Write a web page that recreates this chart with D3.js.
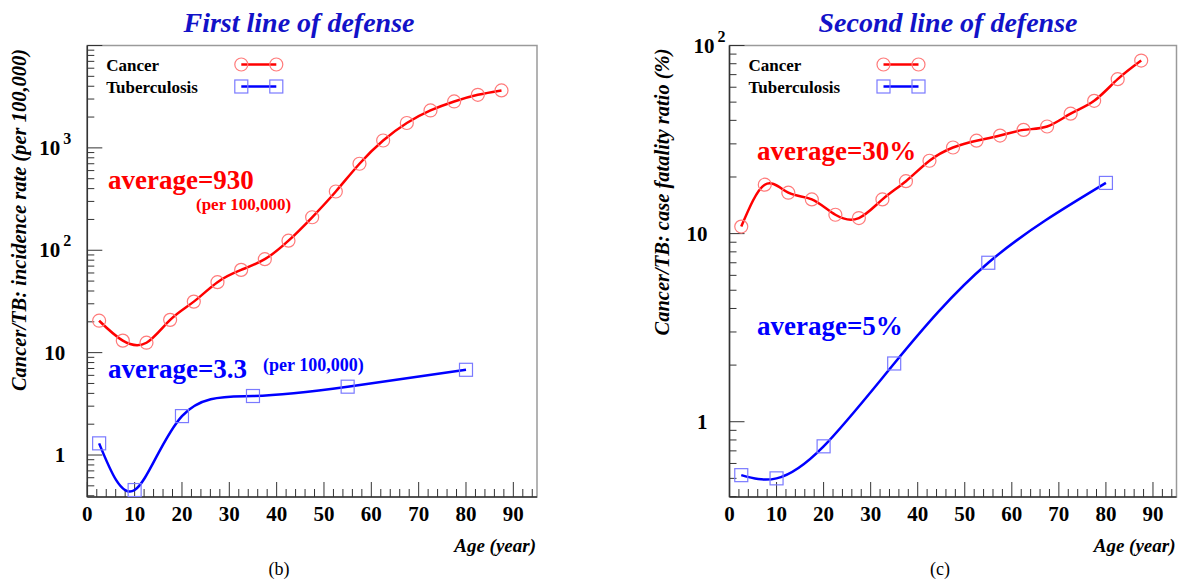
<!DOCTYPE html>
<html>
<head>
<meta charset="utf-8">
<script src="https://cdn.jsdelivr.net/npm/d3@7"></script>
<style>
  body { margin: 0; background: #fff; }
</style>
</head>
<body>
<div id="chart"></div>
<script>
// age groups (5-year bins, midpoints)
var ageGroups = [2.5, 7.5, 12.5, 17.5, 22.5, 27.5, 32.5, 37.5, 42.5, 47.5, 52.5, 57.5, 62.5, 67.5, 72.5, 77.5, 82.5, 87.5];
var tbAges = [2.5, 10, 20, 35, 55, 80];

// (b) incidence per 100,000
var cancerIncidence = [20.5, 13.1, 12.5, 20.9, 31.5, 48.8, 64.3, 81.8, 124, 210, 375, 700, 1180, 1750, 2320, 2840, 3300, 3640];
var tbIncidence = [1.3, 0.455, 2.4, 3.77, 4.65, 6.8];

// (c) case fatality ratio (%)
var cancerFatality = [10.9, 18.2, 16.5, 15.2, 12.6, 12.1, 15.2, 19.0, 24.4, 28.7, 31.2, 33.2, 35.6, 37.1, 43.4, 50.8, 66.2, 83.2];
var tbFatality = [0.52, 0.50, 0.74, 2.04, 7.0, 18.6];

var xTicks = [0, 10, 20, 30, 40, 50, 60, 70, 80, 90];
var legendNames = ["Cancer", "Tuberculosis"];

var width = 1178, height = 581;
var red = "#ff0000", blue = "#0000ff",
    redMark = "#ff7a7a", blueMark = "#7a7aff",
    titleBlue = "#1212c8";

var svg = d3.select("#chart").append("svg")
    .attr("width", width)
    .attr("height", height)
    .attr("font-family", "'Liberation Serif', 'DejaVu Serif', serif");

function drawPanel(p) {
  var x = d3.scaleLinear().domain([0, 95]).range([p.x0, p.x1]);
  var y = d3.scaleLog().domain(p.yDomain).range([p.yBot, p.yTop]);
  var g = svg.append("g");

  // frame
  g.append("rect")
      .attr("x", p.x0).attr("y", p.yTop)
      .attr("width", p.x1 - p.x0).attr("height", p.yBot - p.yTop)
      .attr("fill", "none").attr("stroke", "#9a9a9a").attr("stroke-width", 1.5);

  // x ticks (inside)
  var xMinor = d3.range(0, 96, 2);
  g.selectAll(".xt").data(xMinor).enter().append("line")
      .attr("x1", function(d) { return x(d); })
      .attr("x2", function(d) { return x(d); })
      .attr("y1", p.yBot)
      .attr("y2", function(d) { return d % 10 === 0 ? p.yBot - 15 : p.yBot - 8; })
      .attr("stroke", "#333").attr("stroke-width", 1);

  g.selectAll(".xl").data(xTicks).enter().append("text")
      .attr("x", function(d) { return x(d); })
      .attr("y", 521)
      .attr("text-anchor", "middle")
      .attr("font-size", 21).attr("font-weight", "bold")
      .text(function(d) { return d; });

  // y ticks (log, inside)
  var lo = Math.floor(Math.log10(p.yDomain[0])), hi = Math.ceil(Math.log10(p.yDomain[1]));
  var yMinor = [];
  for (var e = lo; e <= hi; e++) {
    for (var k = 1; k <= 9; k++) {
      var v = k * Math.pow(10, e);
      if (v >= p.yDomain[0] * 0.999 && v <= p.yDomain[1] * 1.001) yMinor.push({v: v, major: k === 1});
    }
  }
  g.selectAll(".yt").data(yMinor).enter().append("line")
      .attr("y1", function(d) { return y(d.v); })
      .attr("y2", function(d) { return y(d.v); })
      .attr("x1", p.x0)
      .attr("x2", function(d) { return d.major ? p.x0 + 15 : p.x0 + 7; })
      .attr("stroke", "#333").attr("stroke-width", 1);

  p.yLabels.forEach(function(l) {
    var t = g.append("text")
        .attr("y", y(l.v) + 7)
        .attr("font-size", 21).attr("font-weight", "bold");
    if (l.exp) {
      t.attr("x", p.x0 - l.off).attr("text-anchor", "end").text("10");
      g.append("text")
          .attr("x", p.x0 - l.off + 3)
          .attr("y", y(l.v) - 4)
          .attr("font-size", 16).attr("font-weight", "bold")
          .text(l.exp);
    } else {
      t.attr("x", p.x0 - 22).attr("text-anchor", "end").text(l.text);
    }
  });

  // axis lines
  g.append("line").attr("x1", p.x0).attr("x2", p.x0).attr("y1", p.yTop).attr("y2", p.yBot)
      .attr("stroke", "#333").attr("stroke-width", 1.5);
  g.append("line").attr("x1", p.x0).attr("x2", p.x1).attr("y1", p.yBot).attr("y2", p.yBot)
      .attr("stroke", "#333").attr("stroke-width", 1.5);

  // curves
  var line = d3.line()
      .x(function(d) { return x(d[0]); })
      .y(function(d) { return y(d[1]); })
      .curve(d3.curveNatural);

  var cancer = d3.zip(ageGroups, p.cancer);
  var tb = d3.zip(tbAges, p.tb);

  g.append("path").datum(cancer).attr("d", line)
      .attr("fill", "none").attr("stroke", red).attr("stroke-width", 2.5);
  g.append("path").datum(tb).attr("d", line)
      .attr("fill", "none").attr("stroke", blue).attr("stroke-width", 2.5);

  g.selectAll(".cm").data(cancer).enter().append("circle")
      .attr("cx", function(d) { return x(d[0]); })
      .attr("cy", function(d) { return y(d[1]); })
      .attr("r", 6.5)
      .attr("fill", "none").attr("stroke", redMark).attr("stroke-width", 1.2);
  g.selectAll(".tm").data(tb).enter().append("rect")
      .attr("x", function(d) { return x(d[0]) - 6.5; })
      .attr("y", function(d) { return y(d[1]) - 6.5; })
      .attr("width", 13).attr("height", 13)
      .attr("fill", "none").attr("stroke", blueMark).attr("stroke-width", 1.2);

  // legend
  var lg = g.append("g").attr("transform", "translate(" + p.x0 + ",0)");
  legendNames.forEach(function(name, i) {
    var ly = 64.5 + i * 22;
    lg.append("text").attr("x", 19).attr("y", ly + 6)
        .attr("font-size", 17).attr("font-weight", "bold").text(name);
    lg.append("line").attr("x1", 154).attr("x2", 189).attr("y1", ly).attr("y2", ly)
        .attr("stroke", i ? blue : red).attr("stroke-width", 2.5);
    [154, 189].forEach(function(mx) {
      if (i === 0) {
        lg.append("circle").attr("cx", mx).attr("cy", ly).attr("r", 6.5)
            .attr("fill", "none").attr("stroke", redMark).attr("stroke-width", 1.2);
      } else {
        lg.append("rect").attr("x", mx - 6.5).attr("y", ly - 6.5).attr("width", 13).attr("height", 13)
            .attr("fill", "none").attr("stroke", blueMark).attr("stroke-width", 1.2);
      }
    });
  });

  // titles and labels
  g.append("text")
      .attr("x", p.titleX).attr("y", 32)
      .attr("text-anchor", "middle")
      .attr("font-size", 28).attr("font-weight", "bold").attr("font-style", "italic")
      .attr("fill", titleBlue)
      .text(p.title);

  g.append("text")
      .attr("transform", "translate(" + p.yLabelX + "," + p.yLabelY + ") rotate(-90)")
      .attr("text-anchor", "middle")
      .attr("font-size", 20.5).attr("font-weight", "bold").attr("font-style", "italic")
      .text(p.yLabel);

  g.append("text")
      .attr("x", p.x1 - 1).attr("y", 552)
      .attr("text-anchor", "end")
      .attr("font-size", 19).attr("font-weight", "bold").attr("font-style", "italic")
      .text("Age (year)");

  g.append("text")
      .attr("x", p.tagX).attr("y", 575)
      .attr("text-anchor", "middle")
      .attr("font-size", 18)
      .text(p.tag);

  p.notes.forEach(function(n) {
    g.append("text")
        .attr("x", n.x).attr("y", n.y)
        .attr("font-size", n.size).attr("font-weight", "bold")
        .attr("fill", n.color)
        .text(n.text);
  });
}

drawPanel({
  x0: 87.3, x1: 537, yTop: 45.5, yBot: 497,
  yDomain: [0.389, 10000],
  cancer: cancerIncidence, tb: tbIncidence,
  yLabels: [{v: 1, text: "1"}, {v: 10, text: "10"}, {v: 100, exp: "2", off: 27}, {v: 1000, exp: "3", off: 27}],
  title: "First line of defense", titleX: 299,
  yLabel: "Cancer/TB: incidence rate (per 100,000)", yLabelX: 26, yLabelY: 220,
  tag: "(b)", tagX: 279,
  notes: [
    {text: "average=930", x: 108, y: 189, size: 27, color: red},
    {text: "(per 100,000)", x: 196, y: 210, size: 17, color: red},
    {text: "average=3.3", x: 108, y: 378, size: 27, color: blue},
    {text: "(per 100,000)", x: 263, y: 371, size: 18, color: blue}
  ]
});

drawPanel({
  x0: 729.5, x1: 1176.5, yTop: 45.5, yBot: 497,
  yDomain: [0.398, 100],
  cancer: cancerFatality, tb: tbFatality,
  yLabels: [{v: 1, text: "1"}, {v: 10, text: "10"}, {v: 100, exp: "2", off: 15}],
  title: "Second line of defense", titleX: 948,
  yLabel: "Cancer/TB: case fatality ratio (%)", yLabelX: 669, yLabelY: 192,
  tag: "(c)", tagX: 940,
  notes: [
    {text: "average=30%", x: 757, y: 160, size: 27, color: red},
    {text: "average=5%", x: 757, y: 335, size: 27, color: blue}
  ]
});
</script>
</body>
</html>
